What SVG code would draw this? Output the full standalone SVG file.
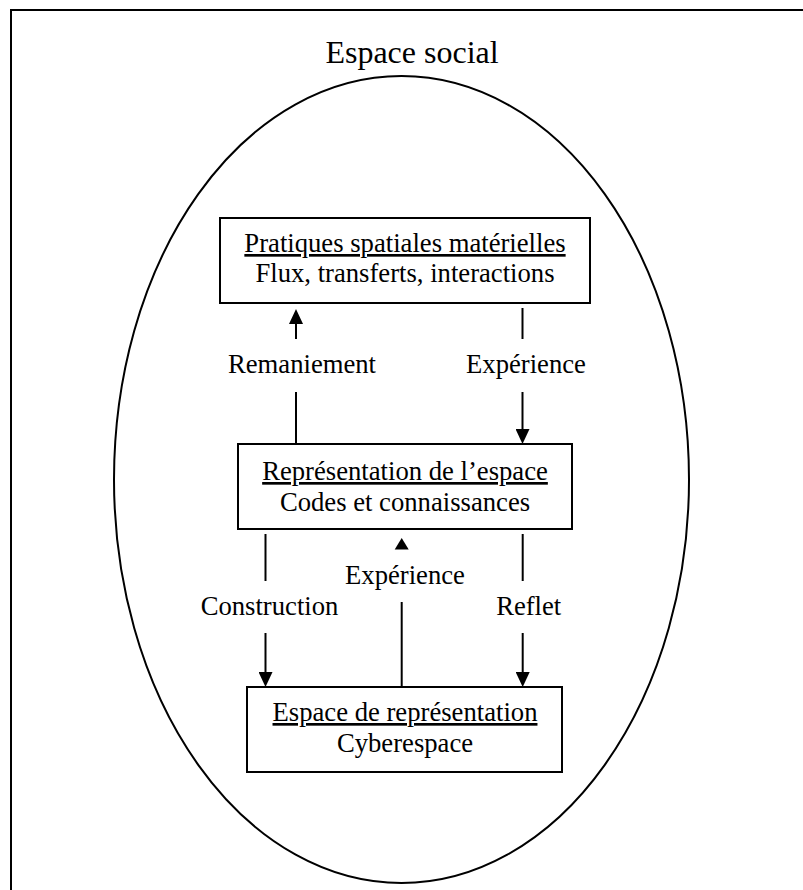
<svg xmlns="http://www.w3.org/2000/svg" width="803" height="890" viewBox="0 0 803 890">
  <style>
    .t { font-family: "Liberation Serif", "Times New Roman", serif; font-size: 26.67px; fill: #000; text-anchor: middle; }
    .title { font-family: "Liberation Serif", "Times New Roman", serif; font-size: 32px; fill: #000; text-anchor: middle; }
    .u { text-decoration: underline; }
    .box { fill: #fff; stroke: #000; stroke-width: 2; }
    .ln { stroke: #000; stroke-width: 2; fill: none; }
    .head { fill: #000; stroke: none; }
  </style>
  <defs>
    <marker id="arr" viewBox="0 0 15 14" refX="0" refY="7" markerWidth="15" markerHeight="14" markerUnits="userSpaceOnUse" orient="auto">
      <path d="M0,0 L15,7 L0,14 Z" fill="#000"/>
    </marker>
  </defs>
  <rect width="803" height="890" fill="#fff"/>
  <g id="frame">
    <rect x="11" y="10" width="900" height="900" fill="none" stroke="#000" stroke-width="2"/>
    <text class="title" x="412" y="63">Espace social</text>
  </g>
  <g id="social-space">
    <ellipse cx="401.5" cy="479.5" rx="287.5" ry="403.5" fill="none" stroke="#000" stroke-width="2"/>
  </g>
  <g id="connectors">
    <!-- Remaniement -->
    <line class="ln" x1="296" y1="444" x2="296" y2="392"/>
    <line class="ln" x1="296" y1="339" x2="296" y2="324" marker-end="url(#arr)"/>
    <text class="t" x="302" y="373">Remaniement</text>
    <!-- Expérience (top) -->
    <line class="ln" x1="522.5" y1="308" x2="522.5" y2="339"/>
    <line class="ln" x1="522.5" y1="392" x2="522.5" y2="429" marker-end="url(#arr)"/>
    <text class="t" x="526" y="373">Expérience</text>
    <!-- Construction -->
    <line class="ln" x1="265.5" y1="534" x2="265.5" y2="581"/>
    <line class="ln" x1="265.5" y1="633" x2="265.5" y2="672" marker-end="url(#arr)"/>
    <text class="t" x="269.5" y="615">Construction</text>
    <!-- Expérience (middle) -->
    <line class="ln" x1="401.7" y1="687" x2="401.7" y2="602"/>
    <path class="head" d="M401.7,538 L408.7,549.5 L394.7,549.5 Z"/>
    <text class="t" x="405" y="584">Expérience</text>
    <!-- Reflet -->
    <line class="ln" x1="522.7" y1="534" x2="522.7" y2="581"/>
    <line class="ln" x1="522.7" y1="633" x2="522.7" y2="672" marker-end="url(#arr)"/>
    <text class="t" x="528.7" y="615">Reflet</text>
  </g>
  <g id="node-pratiques">
    <rect class="box" x="220" y="218" width="370" height="85"/>
    <text class="t u" x="405" y="252">Pratiques spatiales matérielles</text>
    <text class="t" x="405" y="282">Flux, transferts, interactions</text>
  </g>
  <g id="node-representation">
    <rect class="box" x="238" y="444" width="334" height="85"/>
    <text class="t u" x="405" y="480">Représentation de l’espace</text>
    <text class="t" x="405" y="511">Codes et connaissances</text>
  </g>
  <g id="node-espace-representation">
    <rect class="box" x="247" y="687" width="315" height="85"/>
    <text class="t u" x="405" y="721">Espace de représentation</text>
    <text class="t" x="405" y="752">Cyberespace</text>
  </g>
</svg>
